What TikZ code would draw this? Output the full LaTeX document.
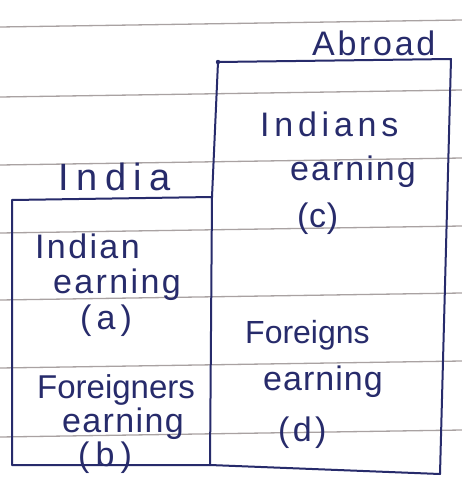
\documentclass[tikz,border=0pt]{standalone}
\usepackage{fontspec}
\setmainfont{Liberation Sans}
\definecolor{ink}{HTML}{272B6B}
\definecolor{ruling}{HTML}{A9A2A2}
% size, letter spacing, text
\newcommand{\penword}[3]{{\fontsize{#1}{#1}\selectfont\addfontfeature{LetterSpace=#2}#3}}
\begin{document}
\begin{tikzpicture}[x=1pt,y=-1pt,
  word/.style={anchor=base west, inner sep=0pt, text=ink},
  boxline/.style={draw=ink, line width=2pt, line join=round, line cap=round}]
\useasboundingbox (0,0) rectangle (462,482);
\fill[white] (0,0) rectangle (462,482);

% ruled paper
\foreach \y in {27,97,165,233,300,368,437}
  \draw[ruling, line width=1.3pt] (0,\y) -- (462,\y-7);

% box corners
\coordinate (iTL) at (12,200);
\coordinate (iTR) at (212,197);
\coordinate (iBR) at (210,465);
\coordinate (iBL) at (12,465);
\coordinate (aTL) at (218,62);
\coordinate (aTR) at (451,59);
\coordinate (aBR) at (440,474);

% India box
\draw[boxline] (iTL) -- (iTR) -- (iBR) -- (iBL) -- cycle;
% Abroad box
\draw[boxline] (iTR) -- (aTL) -- (aTR) -- (aBR) -- (iBR);
\fill[ink] (aTL) circle (2.2pt);

% headings
\node[word] (abroad) at (312,55) {\penword{34}{8}{Abroad}};
\node[word] (india) at (58,190) {\penword{38}{20}{India}};

% India box contents
\node[word] (ia1) at (35,258) {\penword{34}{7}{Indian}};
\node[word] (ia2) at (53,293) {\penword{34}{7}{earning}};
\node[word] (ia3) at (80,329) {\penword{34}{15}{(a)}};
\node[word] (fb1) at (37,398) {\penword{33}{0}{Foreigners}};
\node[word] (fb2) at (62,432) {\penword{34}{4}{earning}};
\node[word] (fb3) at (78,466) {\penword{34}{18}{(b)}};

% Abroad box contents
\node[word] (ic1) at (260,136) {\penword{34}{14}{Indians}};
\node[word] (ic2) at (290,180) {\penword{34}{6}{earning}};
\node[word] (ic3) at (297,227) {\penword{34}{2}{(c)}};
\node[word] (fd1) at (245,343) {\penword{32}{0}{Foreigns}};
\node[word] (fd2) at (263,390) {\penword{34}{3}{earning}};
\node[word] (fd3) at (278,441) {\penword{34}{10}{(d)}};
\end{tikzpicture}
\end{document}
